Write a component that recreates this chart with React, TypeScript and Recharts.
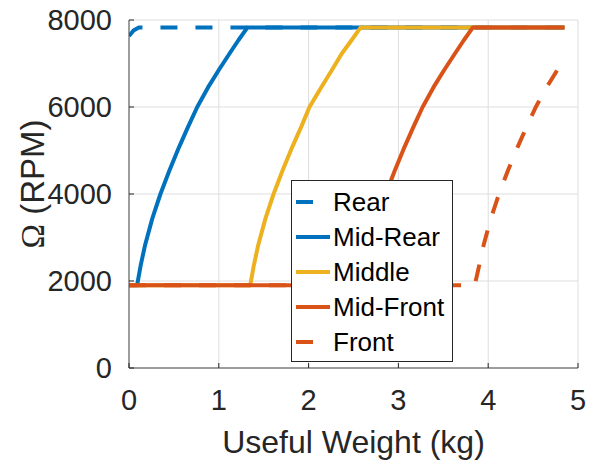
import { LineChart, Line, XAxis, YAxis, CartesianGrid } from "recharts";

const xTicks = [0, 1, 2, 3, 4, 5];
const yTicks = [0, 2000, 4000, 6000, 8000];

// useful weight (kg) vs. motor speed (RPM) for each battery position
const rearW = [0, 0.05, 0.11, 4.85];
const rearRpm = [7630, 7760, 7830, 7830];

const midRearW = [0, 0.09, 0.13, 0.18, 0.26, 0.35, 0.45, 0.56, 0.66, 0.76, 0.88, 1.0, 1.12, 1.22, 1.32, 4.85];
const midRearRpm = [1900, 1900, 2360, 2835, 3440, 4000, 4540, 5090, 5555, 6000, 6450, 6850, 7230, 7540, 7830, 7830];

const middleW = [0, 1.35, 1.39, 1.44, 1.52, 1.61, 1.71, 1.82, 1.92, 2.01, 2.14, 2.26, 2.37, 2.48, 2.58, 4.85];
const middleRpm = [1900, 1900, 2360, 2835, 3440, 4000, 4540, 5090, 5555, 6000, 6450, 6850, 7230, 7540, 7830, 7830];

const midFrontW = [0, 2.6, 2.64, 2.69, 2.77, 2.86, 2.96, 3.07, 3.17, 3.27, 3.39, 3.51, 3.63, 3.73, 3.83, 4.85];
const midFrontRpm = [1900, 1900, 2360, 2835, 3440, 4000, 4540, 5090, 5555, 6000, 6450, 6850, 7230, 7540, 7830, 7830];

const frontW = [0, 3.85, 3.9, 3.95, 4.03, 4.12, 4.22, 4.33, 4.43, 4.53, 4.65, 4.77, 4.85];
const frontRpm = [1900, 1900, 2360, 2835, 3440, 4000, 4540, 5090, 5555, 6000, 6450, 6850, 7080];

const BLUE = "#0072BD";
const YELLOW = "#EDB120";
const ORANGE = "#D95319";
const INK = "#262626";
const FONT = "'Liberation Sans', Arial, Helvetica, sans-serif";
const DASH = "17 18";

const toPoints = (w: number[], rpm: number[]) => w.map((x, i) => ({ w: x, rpm: rpm[i] }));

const series = [
  { name: "Rear", color: BLUE, dashed: true, data: toPoints(rearW, rearRpm) },
  { name: "Mid-Rear", color: BLUE, dashed: false, data: toPoints(midRearW, midRearRpm) },
  { name: "Middle", color: YELLOW, dashed: false, data: toPoints(middleW, middleRpm) },
  { name: "Mid-Front", color: ORANGE, dashed: false, data: toPoints(midFrontW, midFrontRpm) },
  { name: "Front", color: ORANGE, dashed: true, data: toPoints(frontW, frontRpm) },
];

// MATLAB-style ticks: short marks pointing into the axes
function XTick({ x, y, payload }: any) {
  return (
    <g>
      <line x1={x} x2={x} y1={y} y2={y - 5} stroke={INK} strokeWidth={1} />
      <text x={x} y={y + 41.5} textAnchor="middle" fontSize={29} fill={INK} fontFamily={FONT}>
        {payload.value}
      </text>
    </g>
  );
}

function YTick({ x, y, payload }: any) {
  const axisX = x + 17;
  return (
    <g>
      <line x1={axisX} x2={axisX + 5} y1={y} y2={y} stroke={INK} strokeWidth={1} />
      <text x={x} y={y + 10.4} textAnchor="end" fontSize={29} fill={INK} fontFamily={FONT}>
        {payload.value}
      </text>
    </g>
  );
}

function XLabel({ viewBox }: any) {
  const { x, y, width } = viewBox;
  return (
    <text x={x + width / 2} y={y + 85} textAnchor="middle" fontSize={32} fill={INK} fontFamily={FONT}>
      Useful Weight (kg)
    </text>
  );
}

function YLabel({ viewBox }: any) {
  const cx = viewBox.x + 43.5;
  const cy = viewBox.y + 164;
  return (
    <text
      x={cx}
      y={cy}
      textAnchor="middle"
      fontSize={33}
      fill={INK}
      fontFamily={FONT}
      transform={`rotate(-90, ${cx}, ${cy})`}
    >
      <tspan fontFamily="'Liberation Serif', 'Times New Roman', serif">Ω</tspan> (RPM)
    </text>
  );
}

// legend box sits inside the plot area, lower middle
function LegendBox() {
  return (
    <div
      style={{
        position: "absolute",
        left: 291,
        top: 180,
        width: 162,
        height: 182,
        boxSizing: "border-box",
        border: `1px solid ${INK}`,
        background: "#fff",
      }}
    >
      <svg width={160} height={180} style={{ display: "block" }}>
        {series.map((s, i) => {
          const cy = 21 + i * 35;
          return (
            <g key={s.name}>
              <line
                x1={4}
                x2={38}
                y1={cy}
                y2={cy}
                stroke={s.color}
                strokeWidth={4}
                strokeDasharray={s.dashed ? DASH : undefined}
              />
              <text x={41} y={cy + 9.3} fontSize={26} fill="#000" fontFamily={FONT}>
                {s.name}
              </text>
            </g>
          );
        })}
      </svg>
    </div>
  );
}

export default function App() {
  return (
    <div style={{ position: "absolute", left: 0, top: 0, width: 592, height: 462, background: "#fff" }}>
      <LineChart width={592} height={462} margin={{ top: 20, right: 14, left: 0, bottom: 0 }}>
        <CartesianGrid stroke="#dedede" strokeWidth={1} horizontalValues={yTicks} verticalValues={xTicks} />
        <XAxis
          dataKey="w"
          type="number"
          domain={[0, 5]}
          ticks={xTicks}
          interval={0}
          allowDataOverflow
          height={94}
          tickLine={false}
          tickSize={0}
          tickMargin={0}
          tick={<XTick />}
          axisLine={{ stroke: "#4a4a4a", strokeWidth: 1 }}
          label={<XLabel />}
        />
        <YAxis
          dataKey="rpm"
          type="number"
          domain={[0, 8000]}
          ticks={yTicks}
          interval={0}
          allowDataOverflow
          width={129}
          tickLine={false}
          tickSize={0}
          tickMargin={17}
          tick={<YTick />}
          axisLine={{ stroke: "#4a4a4a", strokeWidth: 1 }}
          label={<YLabel />}
        />
        {series.map((s) => (
          <Line
            key={s.name}
            name={s.name}
            data={s.data}
            dataKey="rpm"
            type="linear"
            stroke={s.color}
            strokeWidth={4}
            strokeDasharray={s.dashed ? DASH : undefined}
            strokeLinejoin="round"
            dot={false}
            activeDot={false}
            isAnimationActive={false}
          />
        ))}
      </LineChart>
      <LegendBox />
    </div>
  );
}
